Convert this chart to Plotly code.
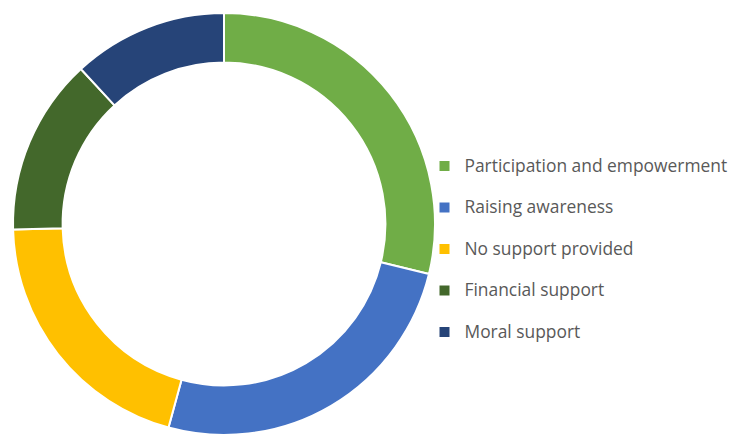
import plotly.graph_objects as go

# Responses per type of support
categories = [
    "Participation and empowerment",
    "Raising awareness",
    "No support provided",
    "Financial support",
    "Moral support",
]
counts = [17, 15, 12, 8, 7]
colors = ["#70AD47", "#4472C4", "#FFC000", "#43682B", "#264478"]

W, H = 737, 435
TOP = 13

# Legend rows: label text at 17.4px on a 14.8px legend line, plus a blank
# second line, so that rows are spaced like the original legend.
legend_labels = [
    f'<span style="font-size:17.4px">{c}</span><br>\u00a0' for c in categories
]

fig = go.Figure(go.Pie(
    labels=legend_labels,
    values=counts,
    customdata=categories,
    hovertemplate="%{customdata}: %{value} (%{percent})<extra></extra>",
    hole=0.765,
    sort=False,
    direction="clockwise",
    rotation=0,
    textinfo="none",
    marker=dict(colors=colors, line=dict(color="#FFFFFF", width=2)),
    domain=dict(x=[10.7 / W, 437.3 / W], y=[0, 1]),
))

fig.update_layout(
    width=W, height=H,
    margin=dict(l=0, r=0, t=TOP, b=0),
    paper_bgcolor="#FFFFFF",
    showlegend=True,
    legend=dict(
        x=424.5 / W, y=1 - (150.0 - TOP) / (H - TOP),
        xanchor="left", yanchor="top",
        xref="paper", yref="paper",
        valign="top",
        maxheight=H,
        font=dict(family="Open Sans", size=14.8, color="#595959"),
        itemclick=False,
        bgcolor="rgba(0,0,0,0)",
    ),
)

fig.write_html("out.html")
